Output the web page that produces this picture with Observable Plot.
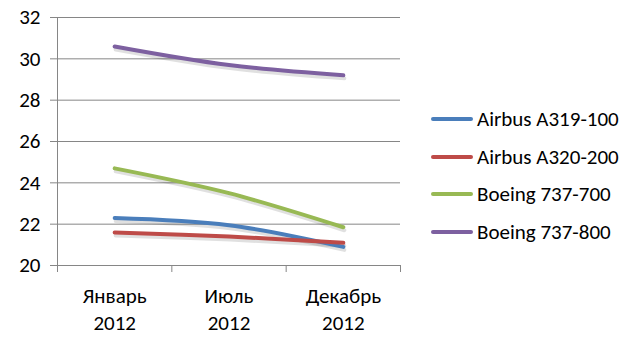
<!DOCTYPE html>
<html><head><meta charset="utf-8">
<script src="https://cdn.jsdelivr.net/npm/d3@7"></script>
<script src="https://cdn.jsdelivr.net/npm/@observablehq/plot@0.6"></script>
<style>
body{margin:0;background:#fff;}
#wrap{position:relative;width:628px;height:352px;font-family:Carlito,Calibri,Lato,sans-serif;}
#legend{position:absolute;left:431px;top:100px;}
.item{display:flex;align-items:center;height:37.7px;font-size:21px;color:#000;}
.sw{width:42px;height:4px;border-radius:2px;margin-right:4px;}
svg text{font-size:21px;}
</style></head>
<body><div id="wrap"></div>
<script>
const categories = ["Январь\n2012", "Июль\n2012", "Декабрь\n2012"];
const seriesNames = ["Airbus A319-100", "Airbus A320-200", "Boeing 737-700", "Boeing 737-800"];
const a319 = [22.3, 21.95, 20.9];
const a320 = [21.6, 21.4, 21.1];
const b737_700 = [24.7, 23.5, 21.85];
const b737_800 = [30.6, 29.7, 29.2];
const colors = ["#4A7EBB", "#BE4B48", "#98B954", "#7D60A0"];
const yTicks = [20, 22, 24, 26, 28, 30, 32];

const seriesValues = [a319, a320, b737_700, b737_800];
const data = [];
seriesValues.forEach((vals, s) => vals.forEach((v, i) => data.push({series: seriesNames[s], xi: i + 0.5, value: v})));

const grid = "#868686";
const chart = Plot.plot({
  width: 628, height: 352,
  marginTop: 17, marginBottom: 87, marginLeft: 57, marginRight: 228,
  style: {fontFamily: "Carlito, Calibri, Lato, sans-serif", fontSize: "21px", color: "#000", background: "#fff"},
  x: {domain: [0, 3], axis: null},
  y: {domain: [20, 32], axis: null},
  color: {domain: seriesNames, range: colors},
  marks: [
    Plot.gridY(yTicks, {stroke: grid, strokeOpacity: 1, strokeWidth: 1}),
    Plot.axisY(yTicks, {tickSize: 7, stroke: grid, strokeOpacity: 1, tickPadding: 10, fill: "#000", label: null, fontSize: 21}),
    Plot.ruleX([0], {stroke: grid}),
    Plot.axisX([0, 1, 2, 3], {tickSize: 7, stroke: grid, strokeOpacity: 1, tickFormat: () => "", label: null}),
    Plot.axisX([0.5, 1.5, 2.5], {tickSize: 0, tickPadding: 18, tickFormat: d => categories[Math.floor(d)], lineHeight: 1.3, fill: "#000", label: null, fontSize: 21}),
    Plot.line(data, {x: "xi", y: "value", z: "series", stroke: "#000", strokeOpacity: 0.12, strokeWidth: 4, dx: 1, dy: 3, curve: "catmull-rom"}),
    Plot.line(data, {x: "xi", y: "value", z: "series", stroke: "series", strokeWidth: 4, curve: "catmull-rom", strokeLinecap: "round"})
  ]
});
const wrap = document.getElementById("wrap");
wrap.appendChild(chart);
const legend = document.createElement("div");
legend.id = "legend";
seriesNames.forEach((n, i) => {
  const it = document.createElement("div");
  it.className = "item";
  it.innerHTML = `<div class="sw" style="background:${colors[i]}"></div><span>${n}</span>`;
  legend.appendChild(it);
});
wrap.appendChild(legend);
</script></body></html>
